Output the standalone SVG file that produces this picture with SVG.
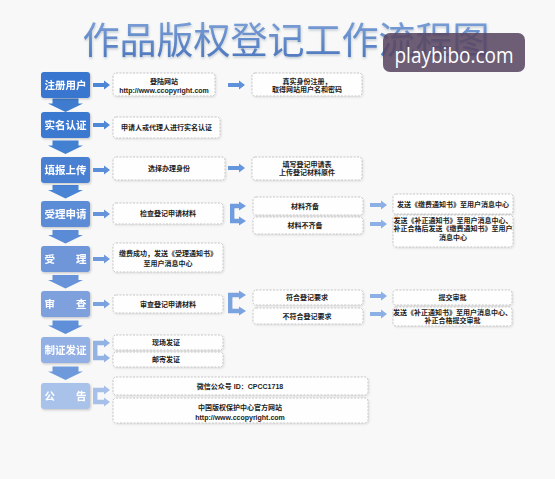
<svg xmlns="http://www.w3.org/2000/svg" xmlns:xlink="http://www.w3.org/1999/xlink" width="555" height="479" viewBox="0 0 555 479">
<defs>
<style>
.bt{font-family:"Liberation Sans","Noto Sans CJK SC",sans-serif;font-weight:bold;font-size:10.5px;fill:#fff;text-anchor:middle}
.st{font-family:"Liberation Sans","Noto Sans CJK SC",sans-serif;font-weight:bold;font-size:7px;fill:#1c1c1c;text-anchor:middle}
.db{fill:#fefefe;stroke:#b9b9b9;stroke-width:0.8;stroke-dasharray:2 1.4;filter:url(#sh)}
.bb{filter:url(#sh2)}
</style>
<filter id="sh" x="-10%" y="-20%" width="120%" height="150%"><feDropShadow dx="0.8" dy="1" stdDeviation="0.8" flood-color="#000" flood-opacity="0.12"/></filter>
<filter id="sh2" x="-10%" y="-20%" width="130%" height="150%"><feDropShadow dx="1" dy="1.2" stdDeviation="1" flood-color="#000" flood-opacity="0.2"/></filter>
<filter id="tsh" x="-5%" y="-20%" width="110%" height="150%"><feDropShadow dx="0.5" dy="1.5" stdDeviation="1.2" flood-color="#7d8ea6" flood-opacity="0.45"/></filter>
<linearGradient id="tg" x1="0" y1="0" x2="0" y2="1"><stop offset="0" stop-color="#86a8dc"/><stop offset="1" stop-color="#4672bb"/></linearGradient>
<path id="ra" d="M0 -1.9 H11 V-4.6 L17 0 L11 4.6 V1.9 H0 Z"/>
<path id="da" d="M-13 0 H13 V5 H17.5 L0 13.5 L-17.5 5 H-13 Z"/>
</defs>
<rect width="555" height="479" fill="#f7f8f7"/>

<g id="title">
<text x="286" y="54" font-family="'Noto Sans CJK SC','Noto Sans CJK JP',sans-serif" font-size="37" fill="url(#tg)" text-anchor="middle" filter="url(#tsh)">作品版权登记工作流程图</text>
</g>

<g id="connectors">
<!-- down arrows -->
<use href="#da" x="65.5" y="98.5" fill="#3f7ccf"/>
<use href="#da" x="65.5" y="140.5" fill="#4280d2"/>
<use href="#da" x="65.5" y="185" fill="#4a84d4"/>
<use href="#da" x="65.5" y="230" fill="#5a8bd6"/>
<use href="#da" x="65.5" y="275" fill="#6893d8"/>
<use href="#da" x="65.5" y="320.5" fill="#5e8fd8"/>
<use href="#da" x="65.5" y="366.5" fill="#6e9adb"/>
<!-- left arrows -->
<use href="#ra" x="93" y="85" fill="#4d86d6"/>
<use href="#ra" x="93" y="125" fill="#4f88d6"/>
<use href="#ra" x="93" y="170" fill="#5a8ed8"/>
<use href="#ra" x="93" y="214" fill="#6594da"/>
<use href="#ra" x="93" y="259" fill="#6e9adc"/>
<use href="#ra" x="93" y="304" fill="#7aa2de"/>
<!-- left brackets -->
<path d="M105 343 H95.2 V358 H105" fill="none" stroke="#93b2e4" stroke-width="4.4"/>
<polygon points="104,338.5 110,343 104,347.5" fill="#93b2e4"/>
<polygon points="104,353.5 110,358 104,362.5" fill="#93b2e4"/>
<path d="M105 390 H95.2 V402 H105" fill="none" stroke="#a6c0ea" stroke-width="4.4"/>
<polygon points="104,385.5 110,390 104,394.5" fill="#a6c0ea"/>
<polygon points="104,397.5 110,402 104,406.5" fill="#a6c0ea"/>
<!-- middle arrows -->
<use href="#ra" x="228" y="85" fill="#5f92da"/>
<use href="#ra" x="228" y="168" fill="#6596db"/>
<!-- middle brackets -->
<path d="M240 206 H232.2 V221 H240" fill="none" stroke="#6e9cde" stroke-width="4.4"/>
<polygon points="239,201.5 246,206 239,210.5" fill="#6e9cde"/>
<polygon points="239,216.5 246,221 239,225.5" fill="#6e9cde"/>
<path d="M240 295 H230.2 V311 H240" fill="none" stroke="#7aa3e0" stroke-width="4.4"/>
<polygon points="239,290.5 246,295 239,299.5" fill="#7aa3e0"/>
<polygon points="239,306.5 246,311 239,315.5" fill="#7aa3e0"/>
<!-- right arrows -->
<use href="#ra" x="370" y="205" fill="#8cb0e6"/>
<use href="#ra" x="370" y="224" fill="#8cb0e6"/>
<use href="#ra" x="370" y="296" fill="#8cb0e6"/>
<use href="#ra" x="370" y="314" fill="#8cb0e6"/>
</g>

<g id="n1" class="bb"><rect x="41" y="72" width="49" height="26" rx="3" fill="#3876cf"/><text class="bt" x="65.5" y="88.7">注册用户</text></g>
<g id="n2" class="bb"><rect x="41" y="112" width="49" height="26" rx="3" fill="#3b78d0"/><text class="bt" x="65.5" y="128.7">实名认证</text></g>
<g id="n3" class="bb"><rect x="41" y="157" width="49" height="26" rx="3" fill="#4a80d2"/><text class="bt" x="65.5" y="173.7">填报上传</text></g>
<g id="n4" class="bb"><rect x="41" y="201" width="49" height="26" rx="3" fill="#5d8cd6"/><text class="bt" x="65.5" y="217.7">受理申请</text></g>
<g id="n5" class="bb"><rect x="41" y="246" width="49" height="26" rx="3" fill="#6e96d9"/><text class="bt" x="65.5" y="262.7">受　　理</text></g>
<g id="n6" class="bb"><rect x="41" y="291" width="49" height="26" rx="3" fill="#7ea1dd"/><text class="bt" x="65.5" y="307.7">审　　查</text></g>
<g id="n7" class="bb"><rect x="41" y="337" width="49" height="26" rx="3" fill="#93b0e4"/><text class="bt" x="65.5" y="353.7">制证发证</text></g>
<g id="n8" class="bb"><rect x="41" y="383" width="49" height="26" rx="3" fill="#a9c2ea"/><text class="bt" x="65.5" y="399.7">公　　告</text></g>

<g id="r1a"><rect class="db" x="113" y="73" width="102" height="23" rx="3"/><text class="st" x="164" y="84">登陆网站</text><text class="st" x="164" y="92.5" font-size="6.8">http://www.ccopyright.com</text></g>
<g id="r1b"><rect class="db" x="252" y="73" width="110" height="23" rx="3"/><text class="st" x="307" y="83.5">真实身份注册，</text><text class="st" x="307" y="92">取得网站用户名和密码</text></g>
<g id="r2a"><rect class="db" x="113" y="117" width="107" height="21" rx="3"/><text class="st" x="166.5" y="129.5">申请人或代理人进行实名认证</text></g>
<g id="r3a"><rect class="db" x="113" y="157" width="112" height="23" rx="3"/><text class="st" x="169" y="171">选择办理身份</text></g>
<g id="r3b"><rect class="db" x="252" y="157" width="110" height="23" rx="3"/><text class="st" x="307" y="167.3">填写登记申请表</text><text class="st" x="307" y="175.3">上传登记材料原件</text></g>
<g id="r4a"><rect class="db" x="113" y="203" width="110" height="21" rx="3"/><text class="st" x="168" y="216">检查登记申请材料</text></g>
<g id="r4b1"><rect class="db" x="253" y="197" width="110" height="18" rx="3"/><text class="st" x="305" y="208.5">材料齐备</text></g>
<g id="r4b2"><rect class="db" x="253" y="217" width="110" height="17" rx="3"/><text class="st" x="305" y="228">材料不齐备</text></g>
<g id="r4c1"><rect class="db" x="393" y="194" width="120" height="20" rx="3"/><text class="st" x="453" y="206.5">发送《缴费通知书》至用户消息中心</text></g>
<g id="r4c2"><rect class="db" x="393" y="215" width="120" height="32" rx="3"/><text class="st" x="453" y="222.5">发送《补正通知书》至用户消息中心、</text><text class="st" x="453" y="231">补正合格后发送《缴费通知书》至用户</text><text class="st" x="453" y="239.5">消息中心</text></g>
<g id="r5a"><rect class="db" x="113" y="243" width="110" height="29" rx="3"/><text class="st" x="168" y="256">缴费成功，发送《受理通知书》</text><text class="st" x="168" y="266">至用户消息中心</text></g>
<g id="r6a"><rect class="db" x="113" y="295" width="110" height="18" rx="3"/><text class="st" x="168" y="306.5">审查登记申请材料</text></g>
<g id="r6b1"><rect class="db" x="253" y="290" width="110" height="15" rx="3"/><text class="st" x="307" y="300">符合登记要求</text></g>
<g id="r6b2"><rect class="db" x="253" y="308" width="110" height="16" rx="3"/><text class="st" x="307" y="318.5">不符合登记要求</text></g>
<g id="r6c1"><rect class="db" x="393" y="290" width="119" height="15" rx="3"/><text class="st" x="452.5" y="300">提交审批</text></g>
<g id="r6c2"><rect class="db" x="393" y="307" width="119" height="19" rx="3"/><text class="st" x="452.5" y="314.5">发送《补正通知书》至用户消息中心、</text><text class="st" x="452.5" y="322.8">补正合格提交审批</text></g>
<g id="r7a"><rect class="db" x="113" y="335" width="110" height="15" rx="3"/><text class="st" x="166" y="345">现场发证</text></g>
<g id="r7b"><rect class="db" x="113" y="352" width="110" height="15" rx="3"/><text class="st" x="166" y="362">邮寄发证</text></g>
<g id="r8a"><rect class="db" x="113" y="377" width="255" height="18" rx="3"/><text class="st" x="240" y="389">微信公众号 ID：CPCC1718</text></g>
<g id="r8b"><rect class="db" x="113" y="398" width="255" height="25" rx="3"/><text class="st" x="240" y="410">中国版权保护中心官方网站</text><text class="st" x="240" y="420" font-size="8">http://www.ccopyright.com</text></g>

<g id="watermark">
<rect x="383" y="33" width="142" height="39" rx="7" fill="#5a4863" fill-opacity="0.88"/>
<text x="454" y="63" font-family="'Open Sans','Noto Sans',sans-serif" font-size="21" fill="#ffffff" text-anchor="middle" textLength="119" lengthAdjust="spacingAndGlyphs">playbibo.com</text>
</g>
</svg>
